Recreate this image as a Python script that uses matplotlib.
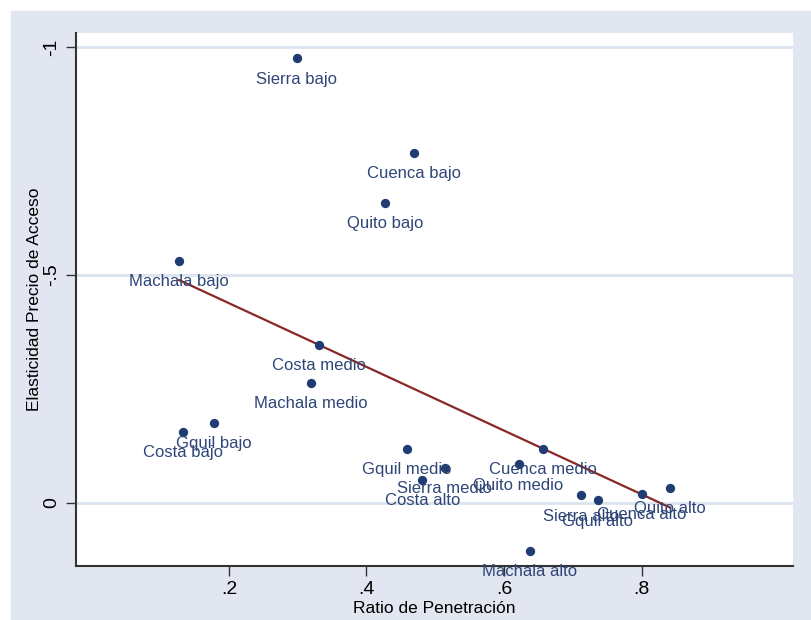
#!/usr/bin/env python3
# -*- coding: utf-8 -*-

import numpy as np
import matplotlib
matplotlib.use("Agg")
import matplotlib.pyplot as plt
from matplotlib.patches import Rectangle

plt.rcParams['font.family'] = ['Liberation Sans', 'DejaVu Sans']

labels = ["Sierra bajo", "Cuenca bajo", "Quito bajo", "Machala bajo",
          "Costa medio", "Machala medio", "Gquil bajo", "Costa bajo",
          "Gquil medio", "Cuenca medio", "Sierra medio", "Costa alto",
          "Quito medio", "Sierra alto", "Gquil alto", "Cuenca alto",
          "Quito alto", "Machala alto"]
ratio = [0.2985, 0.4695, 0.427, 0.1275,
         0.331, 0.319, 0.178, 0.133,
         0.459, 0.656, 0.514, 0.481,
         0.621, 0.712, 0.736, 0.800,
         0.841, 0.637]
elast = [-0.976, -0.769, -0.659, -0.532,
         -0.347, -0.264, -0.176, -0.155,
         -0.118, -0.119, -0.077, -0.050,
         -0.084, -0.016, -0.005, -0.019,
         -0.032, 0.106]

x_ticks = [0.2, 0.4, 0.6, 0.8]
x_ticklabels = [".2", ".4", ".6", ".8"]
y_ticks = [-1, -0.5, 0]
y_ticklabels = ["-1", "-.5", "0"]

bg = "#e1e6f0"
navy = "#1f3c73"
lab_col = "#2e4577"
maroon = "#8b2626"


def main():
    x = np.array(ratio)
    y = np.array(elast)

    fig = plt.figure(figsize=(8.11, 6.2), dpi=100)
    fig.patches.append(Rectangle((11 / 811, 0), 1 - 11 / 811, 1 - 11 / 620,
                                 transform=fig.transFigure, color=bg, zorder=-5))
    ax = fig.add_axes([75.7 / 811, 1 - 565.7 / 620,
                       (793 - 75.7) / 811, (565.7 - 33.3) / 620])
    ax.set_zorder(2)

    for yt in y_ticks:
        ax.axhline(yt, color="#dde3ee", lw=2, zorder=1)

    # linear fit
    a, b = np.polyfit(x, y, 1)
    xf = np.array([x.min(), x.max()])
    ax.plot(xf, a * xf + b, color=maroon, lw=1.6, zorder=2)

    ax.scatter(x, y, s=45, color=navy, zorder=3, linewidths=0)
    for lx, ly, t in zip(x, y, labels):
        ax.annotate(t, (lx, ly), xytext=(0, -9.5), textcoords="offset points",
                    ha="center", va="top", fontsize=12, color=lab_col, zorder=4)

    ax.set_xlim(-0.0227, 1.02)
    ax.set_ylim(0.1383, -1.031)
    ax.set_xticks(x_ticks)
    ax.set_xticklabels(x_ticklabels, fontsize=14)
    ax.set_yticks(y_ticks)
    ax.set_yticklabels(y_ticklabels, fontsize=14, rotation=90, va="center")
    ax.tick_params(length=7, width=1, color="#333333", pad=4)

    for side in ["top", "right"]:
        ax.spines[side].set_visible(False)
    for side in ["left", "bottom"]:
        ax.spines[side].set_color("#333333")
        ax.spines[side].set_linewidth(1.5)

    ax.set_xlabel("Ratio de Penetración", fontsize=12.5, labelpad=2)
    ax.set_ylabel("Elasticidad Precio de Acceso", fontsize=12.5, labelpad=1)

    fig.savefig("out.png", dpi=100)


if __name__ == '__main__':
    main()
